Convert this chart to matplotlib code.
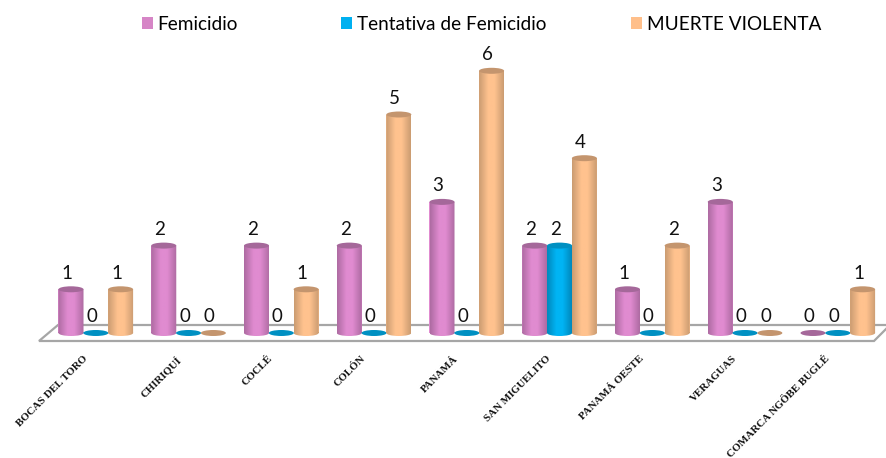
import numpy as np
import matplotlib
matplotlib.use("Agg")
import matplotlib.pyplot as plt
from matplotlib.colors import LinearSegmentedColormap
from matplotlib.patches import Ellipse, Polygon, Patch
from matplotlib.path import Path
from matplotlib.transforms import Affine2D, ScaledTranslation

categories = ["BOCAS DEL TORO", "CHIRIQUÍ", "COCLÉ", "COLÓN", "PANAMÁ",
              "SAN MIGUELITO", "PANAMÁ OESTE", "VERAGUAS", "COMARCA NGÖBE BUGLÉ"]
femicidio = [1, 2, 2, 2, 3, 2, 1, 3, 0]
tentativa = [0, 0, 0, 0, 0, 2, 0, 0, 0]
muerte = [1, 0, 1, 5, 6, 4, 2, 0, 1]
series_names = ["Femicidio", "Tentativa de Femicidio", "MUERTE VIOLENTA"]

W, H = 886, 458
fig = plt.figure(figsize=(W / 100, H / 100), dpi=100, facecolor="white")
ax = fig.add_axes([0, 0, 1, 1])

PX_GROUP = 92.75      # pixels per category
PX_UNIT = 43.7        # pixels per value unit
X0_PX = 95.8          # pixel x of the first category
Y0_PX = 333.0         # pixel y of value 0
xlim = (-X0_PX / PX_GROUP, (W - X0_PX) / PX_GROUP)
ylim = (-(H - Y0_PX) / PX_UNIT, Y0_PX / PX_UNIT)

bar_w = 25.0 / PX_GROUP
ell_h = 6.0 / PX_UNIT
offset = 24.8 / PX_GROUP

styles = [
    dict(edge="#AE6BA2", mid="#E08BD0", cap="#A5689A", zero="#A5689A", legend="#D685C6"),
    dict(edge="#0088BC", mid="#00B4F4", cap="#0090C2", zero="#0090C2", legend="#00B0F0"),
    dict(edge="#CB9C72", mid="#FFC28E", cap="#C4956E", zero="#C4956E", legend="#FFBF8A"),
]

# floor of the 3-D plot
floor = Polygon([(xlim[0] + 39 / PX_GROUP, -8 / PX_UNIT),
                 (xlim[0] + 58 / PX_GROUP, 8 / PX_UNIT),
                 (xlim[0] + 890 / PX_GROUP, 8 / PX_UNIT),
                 (xlim[0] + 874 / PX_GROUP, -8 / PX_UNIT)],
                closed=True, facecolor="white", edgecolor="#A6A6A6", linewidth=1.6, zorder=1)
ax.add_patch(floor)

xs = np.arange(len(categories))
z = 2.0
order = []
for i in range(len(categories)):
    for s, vals in enumerate([femicidio, tentativa, muerte]):
        order.append((i, s, vals[i]))

for i, s, v in order:
    st = styles[s]
    x = xs[i] + (s - 1) * offset
    if v > 0:
        cmap = LinearSegmentedColormap.from_list(
            "c", [st["edge"], st["mid"], st["mid"], st["edge"]])
        ax.bar(x, v, width=bar_w, color=st["mid"], zorder=z)
        grad = np.interp(np.linspace(0, 1, 64), [0, 0.38, 0.62, 1], [0, 0.34, 0.66, 1]).reshape(1, -1)
        im = ax.imshow(grad, cmap=cmap, aspect="auto", vmin=0, vmax=1, zorder=z + 0.1,
                       extent=(x - bar_w / 2, x + bar_w / 2, -ell_h / 2, v))
        rect = Path.unit_rectangle().transformed(
            Affine2D().scale(bar_w, v).translate(x - bar_w / 2, 0))
        circ = Path.unit_circle().transformed(
            Affine2D().scale(bar_w / 2, ell_h / 2).translate(x, 0))
        im.set_clip_path(Path.make_compound_path(rect, circ), ax.transData)
        ax.add_patch(Ellipse((x, v), bar_w, ell_h, facecolor=st["cap"], edgecolor="none",
                             zorder=z + 0.2))
    else:
        ax.add_patch(Ellipse((x, 0), bar_w, ell_h, facecolor=st["zero"], edgecolor="none",
                             zorder=z + 0.2))
    ax.annotate(str(v), (x, v), xytext=(-4 * 0.72, 16 * 0.72), textcoords="offset points",
                ha="center", va="center", fontsize=13.5, family="Lato", color="#111111",
                zorder=10)
    z += 1

ax.set_xlim(*xlim)
ax.set_ylim(*ylim)
for sp in ax.spines.values():
    sp.set_visible(False)
ax.set_yticks([])
ax.spines["bottom"].set_position(("data", -21 / PX_UNIT))
ax.set_xticks(xs)
ax.set_xticklabels(categories, rotation=45, ha="right", va="top", rotation_mode="anchor",
                   family="Liberation Serif", fontweight="bold", fontsize=7.8, color="#111111")
ax.tick_params(axis="x", length=0, pad=0)
shift = ScaledTranslation(-13 / 100, 0, fig.dpi_scale_trans)
for lab in ax.get_xticklabels():
    lab.set_transform(lab.get_transform() + shift)

# legend, one entry at a time so that each keeps its own place
legend_x = [134, 333, 623]
for name, st, lx in zip(series_names, styles, legend_x):
    fig.legend(handles=[Patch(facecolor=st["legend"], label=name)],
               loc="center left", bbox_to_anchor=(lx / W, 1 - 24 / H),
               frameon=False, handlelength=0.62, handleheight=0.62,
               handletextpad=0.22, borderpad=0, borderaxespad=0.4,
               prop={"family": "Lato", "size": 13.7})

fig.savefig("out.png", dpi=100)
